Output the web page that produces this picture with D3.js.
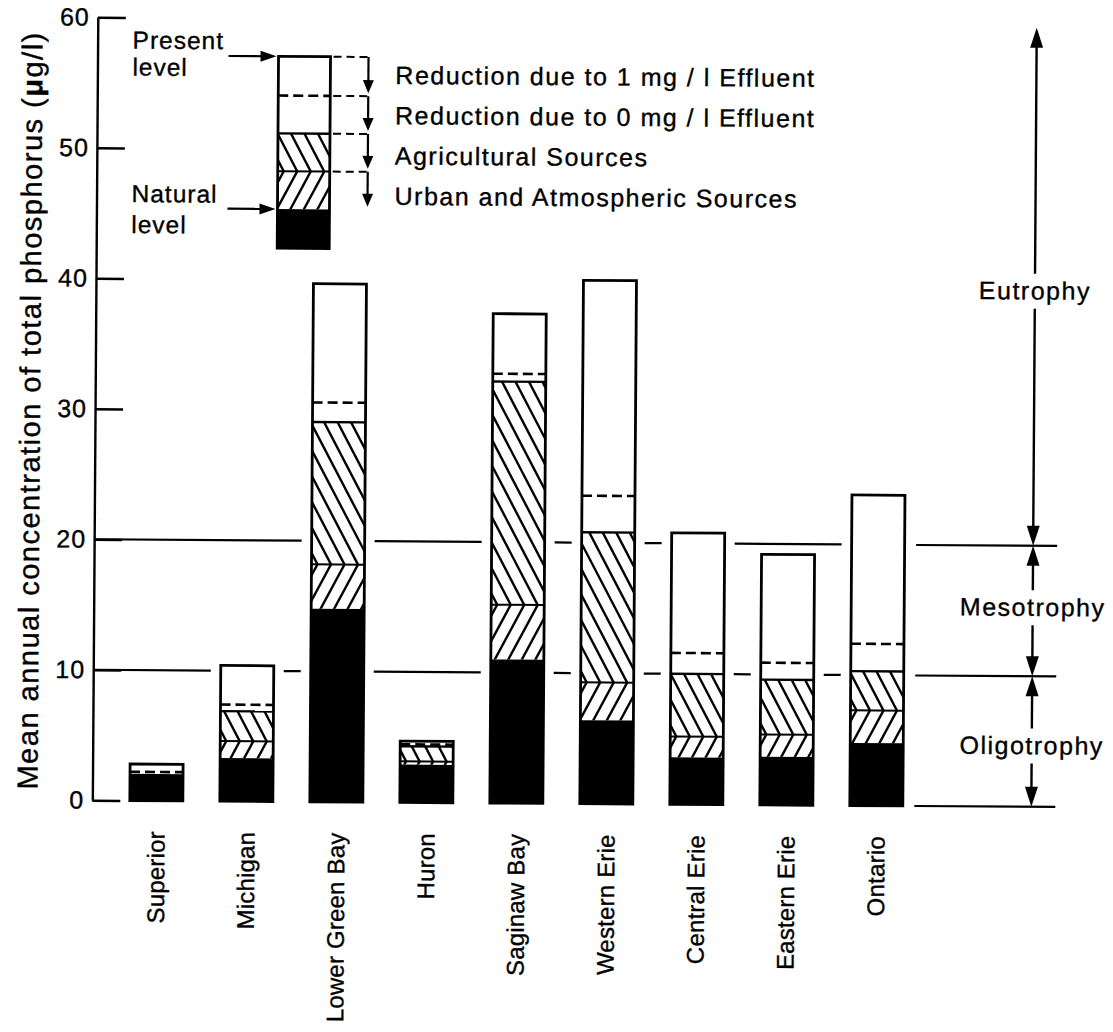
<!DOCTYPE html>
<html><head><meta charset="utf-8">
<script src="https://cdn.jsdelivr.net/npm/d3@7/dist/d3.min.js"></script>
<style>
html,body{margin:0;padding:0;background:#fff;}
svg{display:block;}
text{font-family:"Liberation Sans",Arial,Helvetica,sans-serif;stroke:#000;stroke-width:0.35px;}
</style></head><body>
<svg id="chart" width="1113" height="1032" xmlns="http://www.w3.org/2000/svg"></svg>
<script>
// ---------- data ----------
const lakes = ["Superior","Michigan","Lower Green Bay","Huron","Saginaw Bay","Western Erie","Central Erie","Eastern Erie","Ontario"];
const naturalLevel = [1.9, 3.3, 14.8, 2.9, 11.0, 6.4, 3.6, 3.7, 4.8];
const urbanTop     = [1.9, 4.6, 18.2, 3.15, 15.2, 9.3, 5.2, 5.4, 7.3];
const agriTop      = [1.95, 6.9, 29.1, 4.3, 32.3, 20.8, 10.0, 9.6, 10.3];
const oneMgLevel   = [2.2, 7.4, 30.6, 4.45, 32.9, 23.6, 11.6, 10.9, 12.4];
const presentLevel = [2.8, 10.4, 39.7, 4.7, 37.5, 40.1, 20.8, 19.2, 23.8];
const yTickValues = [0, 10, 20, 30, 40, 50, 60];
const referenceLevels = [10, 20];
// legend sample bar: base, natural, urban, agricultural, 1 mg/l, present
const legendLevels = [42.4, 45.4, 48.3, 51.2, 54.1, 57.1];
const legendLabels = ["Reduction due to 1 mg / l Effluent", "Reduction due to 0 mg / l Effluent", "Agricultural Sources", "Urban and Atmospheric Sources"];
const trophicNames = ["Oligotrophy", "Mesotrophy", "Eutrophy"];
const trophicBounds = [0, 10, 20, 59.7];
const trophicLabelAt = [4.7, 15.3, 39.55];
const yTitleText = ["Mean annual concentration of total phosphorus (", "\u03bc", "g/l)"];

// ---------- layout ----------
const FONT = '"Liberation Sans", Arial, Helvetica, sans-serif';
const svg = d3.select("#chart");
const defs = svg.append("defs");
svg.append("rect").attr("width",1113).attr("height",1032).attr("fill","#fff");
const root = svg.append("g").attr("transform","rotate(0.4 560 420)");

const y = d3.scaleLinear().domain([0, 60]).range([803.5, 20.5]);
const x = d3.scaleBand().domain(lakes).range([132.5, 905.5]).paddingInner(0.411).paddingOuter(0);
const axisX = 95;
const K = 0.53, SP = 13.5;
let clipCount = 0;

function arrowHead(g, tipX, tipY, dir, len, half) {
  let pts;
  if (dir === "down") pts = [[tipX, tipY], [tipX - half, tipY - len], [tipX + half, tipY - len]];
  else if (dir === "up") pts = [[tipX, tipY], [tipX - half, tipY + len], [tipX + half, tipY + len]];
  else pts = [[tipX, tipY], [tipX - len, tipY - half], [tipX - len, tipY + half]];
  g.append("path").attr("d", "M" + pts.map(p => p.join(",")).join("L") + "Z").attr("fill", "#000");
}

function drawStack(g, xl, w, base, nat, urb, agr, one, pres) {
  const yb = y(base), yn = y(nat), yu = y(urb), ya = y(agr), yo = y(one), yp = y(pres);
  const H = 400;
  g.append("rect").attr("x", xl).attr("y", yn).attr("width", w).attr("height", yb - yn).attr("fill", "#000");
  function hatchSeg(yTop, yBot, sign) {
    if (yBot - yTop < 0.5) return;
    const id = "clip" + (clipCount++);
    defs.append("clipPath").attr("id", id).append("rect")
      .attr("x", xl).attr("y", yTop).attr("width", w).attr("height", yBot - yTop);
    const xs = d3.range(xl + 6 - Math.ceil(K * H / SP) * SP, xl + w + K * H, SP);
    g.append("g").attr("clip-path", `url(#${id})`).selectAll("line").data(xs).join("line")
      .attr("x1", d => d + K * H).attr("y1", yu + sign * H)
      .attr("x2", d => d - K * H).attr("y2", yu - sign * H)
      .attr("stroke", "#000").attr("stroke-width", 2.4);
  }
  hatchSeg(ya, yu, 1);    // agricultural "\\"
  hatchSeg(yu, yn, -1);   // urban & atmospheric "/"
  if (yn - yu > 0.5) g.append("line").attr("x1", xl).attr("x2", xl + w).attr("y1", yu).attr("y2", yu).attr("stroke", "#000").attr("stroke-width", 2);
  g.append("line").attr("x1", xl).attr("x2", xl + w).attr("y1", ya).attr("y2", ya).attr("stroke", "#000").attr("stroke-width", 2.4);
  g.append("line").attr("x1", xl).attr("x2", xl + w).attr("y1", yo).attr("y2", yo).attr("stroke", "#000").attr("stroke-width", 2.6).attr("stroke-dasharray", "10,5");
  g.append("rect").attr("x", xl).attr("y", yp).attr("width", w).attr("height", yb - yp)
    .attr("fill", "none").attr("stroke", "#000").attr("stroke-width", 2.8);
}

// ---------- y axis ----------
const yAxis = d3.axisLeft(y).tickValues(yTickValues).tickSize(-28).tickSizeOuter(0).tickPadding(8);
const gAxis = root.append("g").attr("transform", `translate(${axisX},0)`).call(yAxis);
gAxis.attr("font-family", FONT).attr("font-size", 25);
gAxis.selectAll("path,line").attr("stroke", "#000").attr("stroke-width", 2.4);
gAxis.selectAll("text").attr("fill", "#000").style("letter-spacing", "1px");

// y title
const title = root.append("text")
  .attr("transform", `translate(30,414) rotate(-90)`)
  .attr("text-anchor", "middle").attr("dominant-baseline", "central")
  .attr("font-size", 29).style("letter-spacing", "1.5px").attr("fill", "#000");
title.append("tspan").text(yTitleText[0]);
title.append("tspan").attr("font-weight", "bold").text(yTitleText[1]);
title.append("tspan").text(yTitleText[2]);

// ---------- reference lines (10, 20) broken by taller bars ----------
const M = 10;
referenceLevels.forEach(L => {
  const segs = [];
  let start = axisX;
  lakes.forEach((lake, i) => {
    if (presentLevel[i] >= L) {
      const left = x(lake);
      if (left - M > start) segs.push([start, left - M]);
      start = left + x.bandwidth() + M;
    }
  });
  if (start < x.range()[1]) segs.push([start, x.range()[1]]);
  root.append("g").selectAll("line").data(segs).join("line")
    .attr("x1", d => d[0]).attr("x2", d => d[1]).attr("y1", y(L)).attr("y2", y(L))
    .attr("stroke", "#000").attr("stroke-width", 2.2);
});

// ---------- bars ----------
const gBars = root.append("g");
lakes.forEach((lake, i) => {
  drawStack(gBars, x(lake), x.bandwidth(), 0, naturalLevel[i], urbanTop[i], agriTop[i], oneMgLevel[i], presentLevel[i]);
});

// category labels
root.append("g").selectAll("text").data(lakes).join("text")
  .attr("transform", d => `translate(${x(d) + x.bandwidth() / 2},834) rotate(-90)`)
  .attr("text-anchor", "end").attr("dy", "0.35em")
  .attr("font-size", 24).style("letter-spacing", "0.2px").attr("fill", "#000")
  .text(d => d);

// ---------- legend ----------
const gLeg = root.append("g");
const legX = 276, legW = 52;
drawStack(gLeg, legX, legW, ...legendLevels);
const connX = 366;
for (let j = 0; j < 4; j++) {
  const top = legendLevels[5 - j], bot = legendLevels[4 - j];
  gLeg.append("line").attr("x1", legX + legW + 3).attr("x2", connX).attr("y1", y(top)).attr("y2", y(top))
    .attr("stroke", "#000").attr("stroke-width", 2).attr("stroke-dasharray", "8,5");
  gLeg.append("line").attr("x1", connX).attr("x2", connX).attr("y1", y(top)).attr("y2", y(bot) - 14)
    .attr("stroke", "#000").attr("stroke-width", 2.2);
  arrowHead(gLeg, connX, y(bot) - 3, "down", 13, 5.5);
  gLeg.append("text").attr("x", 393).attr("y", y(legendLevels[5]) + 18 + j * 40.3)
    .attr("dy", "0.35em").attr("font-size", 25).style("letter-spacing", "1.5px").attr("fill", "#000")
    .text(legendLabels[j]);
}
// Present / Natural level pointers
[[legendLevels[5], ["Present", "level"], [51.5, 78.5]], [legendLevels[1], ["Natural", "level"], [205, 236]]].forEach(([v, words, base]) => {
  gLeg.append("line").attr("x1", 226).attr("x2", legX - 14).attr("y1", y(v)).attr("y2", y(v)).attr("stroke", "#000").attr("stroke-width", 2.2);
  arrowHead(gLeg, legX - 2, y(v), "right", 16, 5.5);
  words.forEach((wd, k) => {
    gLeg.append("text").attr("x", 130).attr("y", base[k]).attr("font-size", 24.5)
      .style("letter-spacing", "1px").attr("fill", "#000").text(wd);
  });
});

// ---------- trophic scale on right ----------
const gT = root.append("g");
const tX = 1034;
gT.selectAll("line.bound").data(trophicBounds.slice(0, 3)).join("line").attr("class", "bound")
  .attr("x1", 917).attr("x2", 1058).attr("y1", d => y(d)).attr("y2", d => y(d))
  .attr("stroke", "#000").attr("stroke-width", 2.2);
trophicNames.forEach((nm, i) => {
  const lo = trophicBounds[i], hi = trophicBounds[i + 1], c = y(trophicLabelAt[i]);
  gT.append("line").attr("x1", tX).attr("x2", tX).attr("y1", c - 17).attr("y2", y(hi) + 18).attr("stroke", "#000").attr("stroke-width", 2.4);
  arrowHead(gT, tX, y(hi), "up", 20, 6.5);
  gT.append("line").attr("x1", tX).attr("x2", tX).attr("y1", c + 18).attr("y2", y(lo) - 18).attr("stroke", "#000").attr("stroke-width", 2.4);
  arrowHead(gT, tX, y(lo), "down", 20, 6.5);
  gT.append("text").attr("x", tX).attr("y", c).attr("dy", "0.35em").attr("text-anchor", "middle")
    .attr("font-size", 25).style("letter-spacing", "1.5px").attr("fill", "#000").text(nm);
});
</script>
</body></html>
